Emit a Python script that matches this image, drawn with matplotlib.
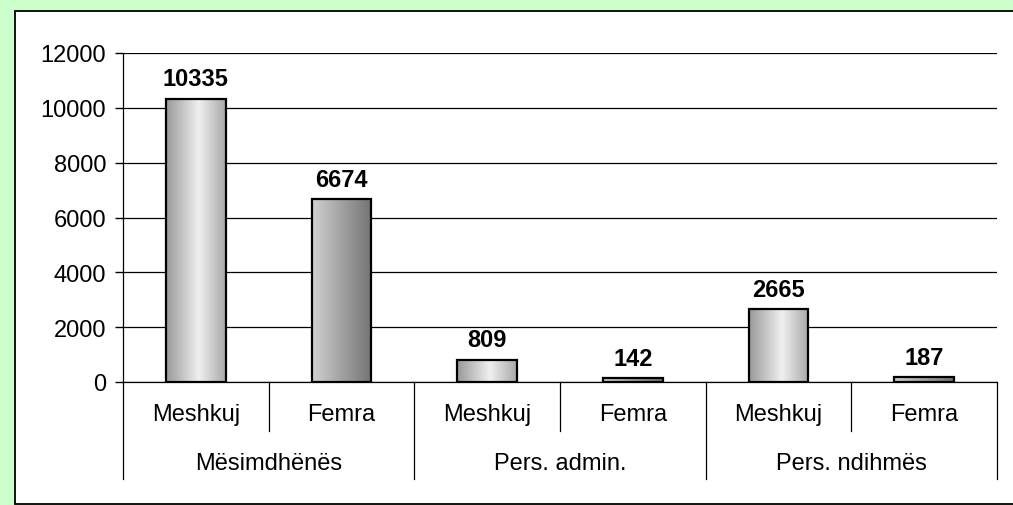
import numpy as np
import matplotlib
matplotlib.use("Agg")
import matplotlib.pyplot as plt
from matplotlib.patches import Rectangle

plt.rcParams['font.family'] = ['Liberation Sans', 'DejaVu Sans']

groups = ["Mësimdhënës", "Pers. admin.", "Pers. ndihmës"]
genders = ["Meshkuj", "Femra"]
values = [10335, 6674, 809, 142, 2665, 187]
yticks = [0, 2000, 4000, 6000, 8000, 10000, 12000]

fig = plt.figure(figsize=(10.13, 5.06), dpi=100)
fig.patch.set_facecolor("#ccffcc")

# white inner frame
W, H = 1013, 506
fig.add_artist(Rectangle((15 / W, 1 - 505 / H), 1.2, (505 - 12) / H,
                         transform=fig.transFigure, facecolor="white",
                         edgecolor="black", linewidth=1.3, zorder=-5))

ax = fig.add_axes([123 / W, 1 - 383 / H, (997 - 123) / W, (383 - 54) / H])
ax.set_zorder(2)
ax.set_facecolor("none")

x = np.arange(len(values))
bw = 0.41

# gradient fills
t = np.linspace(0, 1, 256)
grad_m = np.interp(t, [0, 0.55, 1], [0.60, 0.94, 0.66])
grad_f = np.interp(t, [0, 1], [0.82, 0.45])
for i, v in enumerate(values):
    g = grad_m if i % 2 == 0 else grad_f
    img = np.dstack([g, g, g])
    ax.imshow(img, extent=[i - bw / 2, i + bw / 2, 0, v], aspect="auto",
              interpolation="bilinear", zorder=2)
ax.bar(x, values, width=bw, facecolor="none", edgecolor="black",
       linewidth=1.6, zorder=3)

fs = 17
for i, v in enumerate(values):
    ax.annotate(str(v), (i, v), xytext=(0, 6), textcoords="offset points",
                ha="center", va="bottom", fontsize=fs, fontweight="bold")

ax.set_xlim(-0.5, 5.5)
ax.set_ylim(0, 12000)
ax.set_yticks(yticks)
ax.set_yticklabels([str(v) for v in yticks], fontsize=fs)
ax.tick_params(axis="y", length=6, width=1, pad=6)
ax.set_xticks([])
ax.yaxis.grid(True, color="black", linewidth=0.9)
ax.set_axisbelow(True)
for s in ["top", "right"]:
    ax.spines[s].set_visible(False)
ax.spines["left"].set_linewidth(0.9)
ax.spines["bottom"].set_linewidth(0.9)

# two-level category axis
tr = ax.get_xaxis_transform()
for i in range(len(values)):
    ax.text(i, -0.097, genders[i % 2], transform=tr, ha="center",
            va="center", fontsize=fs)
for j, g in enumerate(groups):
    ax.text(2 * j + 0.5, -0.246, g, transform=tr, ha="center",
            va="center", fontsize=fs)
for b in [0.5, 2.5, 4.5]:
    ax.plot([b, b], [0, -0.149], transform=tr, color="black",
            linewidth=0.9, clip_on=False)
for b in [-0.5, 1.5, 3.5, 5.5]:
    ax.plot([b, b], [0, -0.295], transform=tr, color="black",
            linewidth=0.9, clip_on=False)

fig.savefig("out.png", dpi=100, facecolor=fig.get_facecolor())
